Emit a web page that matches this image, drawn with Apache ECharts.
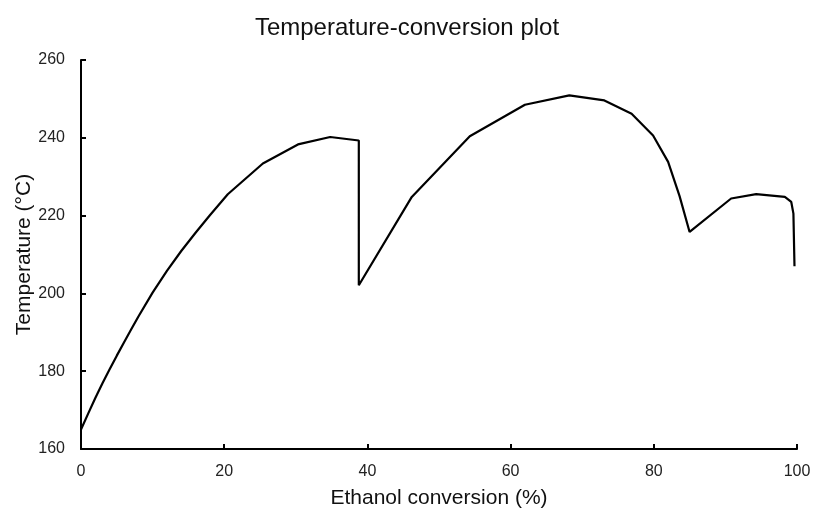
<!DOCTYPE html>
<html>
<head>
<meta charset="utf-8">
<script src="https://cdn.jsdelivr.net/npm/echarts@6/dist/echarts.min.js"></script>
<style>html,body{margin:0;padding:0;background:#fff}#c{width:814px;height:508px}</style>
</head>
<body>
<div id="c"></div>
<script>
const conversion = [0, 1, 2, 3, 4, 5, 6, 7, 8, 10, 12, 14, 16, 18, 20.5, 25.4, 30.3, 34.8, 38.8, 38.8, 46.2, 54.3, 62.0, 68.2, 73.1, 76.9, 79.9, 82.0, 83.6, 85.0, 90.8, 94.3, 98.3, 99.2, 99.5, 99.65];
const temperature = [165, 169.1, 173.1, 176.9, 180.5, 184, 187.4, 190.7, 194, 200.2, 205.8, 210.9, 215.6, 220.1, 225.5, 233.4, 238.3, 240.2, 239.3, 202.1, 224.8, 240.4, 248.5, 250.9, 249.6, 246.2, 240.6, 233.8, 225, 215.8, 224.4, 225.5, 224.8, 223.5, 220.5, 207];
const xTicks = [0, 20, 40, 60, 80, 100];
const yTicks = [160, 180, 200, 220, 240, 260];

const font = '"Liberation Sans", Arial, Helvetica, sans-serif';
const chart = echarts.init(document.getElementById('c'));
chart.setOption({
  animation: false,
  backgroundColor: '#fff',
  title: {
    text: 'Temperature-conversion plot',
    left: 'center', top: 11,
    textStyle: {fontFamily: font, fontSize: 24, fontWeight: 'normal', color: '#111'}
  },
  grid: {left: 81, right: 17, top: 60, bottom: 59, containLabel: false, outerBoundsMode: 'none'},
  xAxis: {
    type: 'value', min: xTicks[0], max: xTicks[xTicks.length - 1], interval: 20,
    name: 'Ethanol conversion (%)', nameLocation: 'middle', nameGap: 39,
    nameTextStyle: {fontFamily: font, fontSize: 21, color: '#111'},
    axisLine: {lineStyle: {color: '#000', width: 2}},
    axisTick: {inside: true, length: 5, lineStyle: {color: '#000', width: 2}},
    axisLabel: {fontFamily: font, fontSize: 16, color: '#222', margin: 15},
    splitLine: {show: false}
  },
  yAxis: {
    type: 'value', min: yTicks[0], max: yTicks[yTicks.length - 1], interval: 20,
    name: 'Temperature (°C)', nameLocation: 'middle', nameGap: 46, nameRotate: 90,
    nameMoveOverlap: false,
    nameTextStyle: {fontFamily: font, fontSize: 21, color: '#111'},
    axisLine: {show: true, lineStyle: {color: '#000', width: 2}},
    axisTick: {show: true, inside: true, length: 5, lineStyle: {color: '#000', width: 2}},
    axisLabel: {fontFamily: font, fontSize: 16, color: '#222', margin: 16},
    splitLine: {show: false}
  },
  series: [{
    type: 'line',
    data: conversion.map((x, i) => [x, temperature[i]]),
    showSymbol: false,
    smooth: false,
    lineStyle: {color: '#000', width: 2.2}
  }]
});
</script>
</body>
</html>
